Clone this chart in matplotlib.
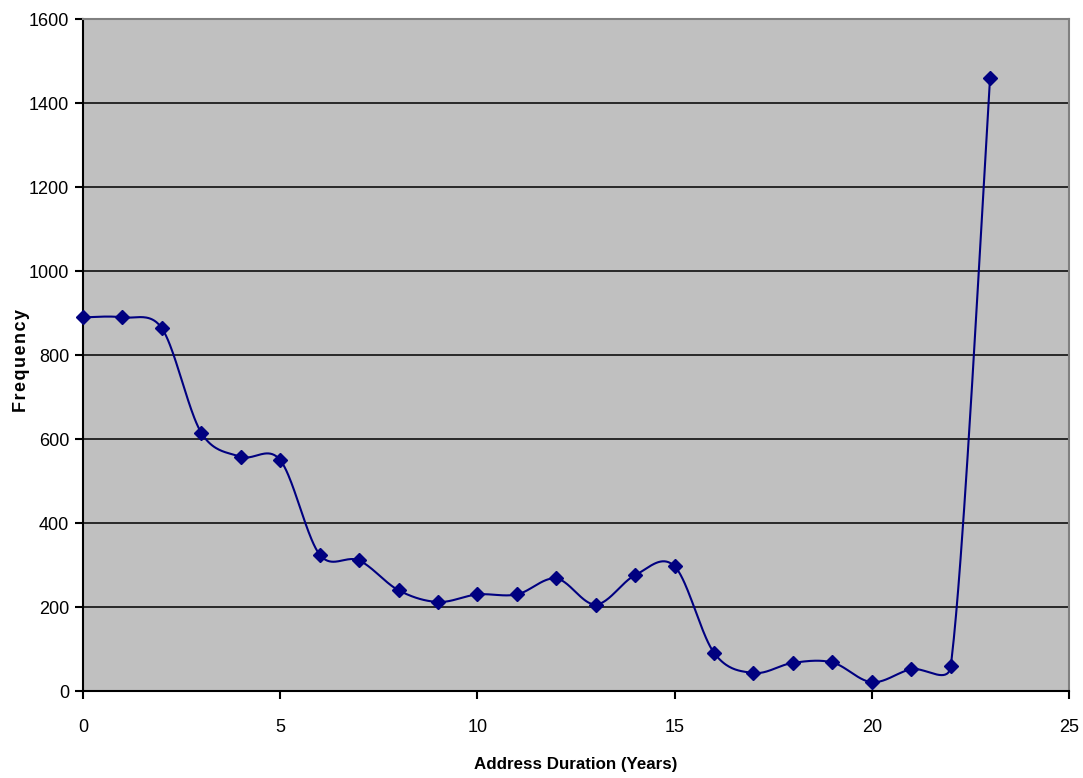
import numpy as np
import matplotlib
matplotlib.use("Agg")
import matplotlib.pyplot as plt

# ---- data ----
years = [0, 1, 2, 3, 4, 5, 6, 7, 8, 9, 10, 11, 12, 13, 14, 15, 16, 17, 18, 19, 20, 21, 22, 23]
frequency = [890, 890, 864, 615, 558, 550, 325, 311, 240, 212, 230, 230, 268, 206,
             276, 297, 91, 43, 67, 68, 21, 52, 59, 1461]
x_ticks = [0, 5, 10, 15, 20, 25]
y_ticks = [0, 200, 400, 600, 800, 1000, 1200, 1400, 1600]

font = "Liberation Sans"

fig = plt.figure(figsize=(10.83, 7.78), dpi=100)
ax = fig.add_axes([83/1083, 1-691/778, (1069-83)/1083, (691-19.3)/778])
ax.set_facecolor("#C0C0C0")
ax.set_xlim(0, 25)
ax.set_ylim(0, 1600)

# gridlines
for v in y_ticks[1:-1]:
    ax.axhline(v, color="black", lw=1.1, zorder=1)

# Excel-like smoothed line computed in display space
fig.canvas.draw()
pts = ax.transData.transform(np.column_stack([years, frequency]))
n = len(pts)
curve = []
f = 1/6
for i in range(n-1):
    p0 = pts[max(i-1, 0)]
    p1 = pts[i]
    p2 = pts[i+1]
    p3 = pts[min(i+2, n-1)]
    d12 = np.linalg.norm(p2-p1)
    t1 = f*(p2-p0)
    t2 = f*(p3-p1)
    l1 = np.linalg.norm(t1)
    l2 = np.linalg.norm(t2)
    if l1 > d12/2:
        t1 = t1*(d12/2)/l1
    if l2 > d12/2:
        t2 = t2*(d12/2)/l2
    b1 = p1 + t1
    b2 = p2 - t2
    t = np.linspace(0, 1, 40)[:, None]
    seg = (1-t)**3*p1 + 3*(1-t)**2*t*b1 + 3*(1-t)*t**2*b2 + t**3*p2
    curve.append(seg if i == 0 else seg[1:])
curve = np.vstack(curve)
curve_data = ax.transData.inverted().transform(curve)
ax.plot(curve_data[:, 0], curve_data[:, 1], color="#000080", lw=1.5, zorder=3, clip_on=False)
ax.plot(years, frequency, linestyle="none", marker="D", markersize=7,
        color="#000080", zorder=4, clip_on=False)

# spines
for s in ["left", "bottom"]:
    ax.spines[s].set_color("black")
    ax.spines[s].set_linewidth(1.5)
for s in ["top", "right"]:
    ax.spines[s].set_color("#808080")
    ax.spines[s].set_linewidth(1.5)

ax.set_xticks(x_ticks)
ax.set_yticks(y_ticks)
ax.set_xticklabels([str(v) for v in x_ticks], fontfamily=font, fontsize=13)
ax.set_yticklabels([str(v) for v in y_ticks], fontfamily=font, fontsize=13)
ax.tick_params(axis="both", direction="out", length=6, width=1.5, color="black")
ax.tick_params(axis="x", pad=14)
ax.tick_params(axis="y", pad=4)

fig.text(576/1083, 1-765/778, "Address Duration (Years)", fontfamily=font,
         fontweight="bold", fontsize=12.2, ha="center", va="center")
fig.text(22/1083, 1-361/778, "\u200a".join("Frequency"), fontfamily=[font, "DejaVu Sans"],
         fontweight="bold", fontsize=13, rotation=90, ha="center", va="center")

fig.savefig("out.png", dpi=100)
